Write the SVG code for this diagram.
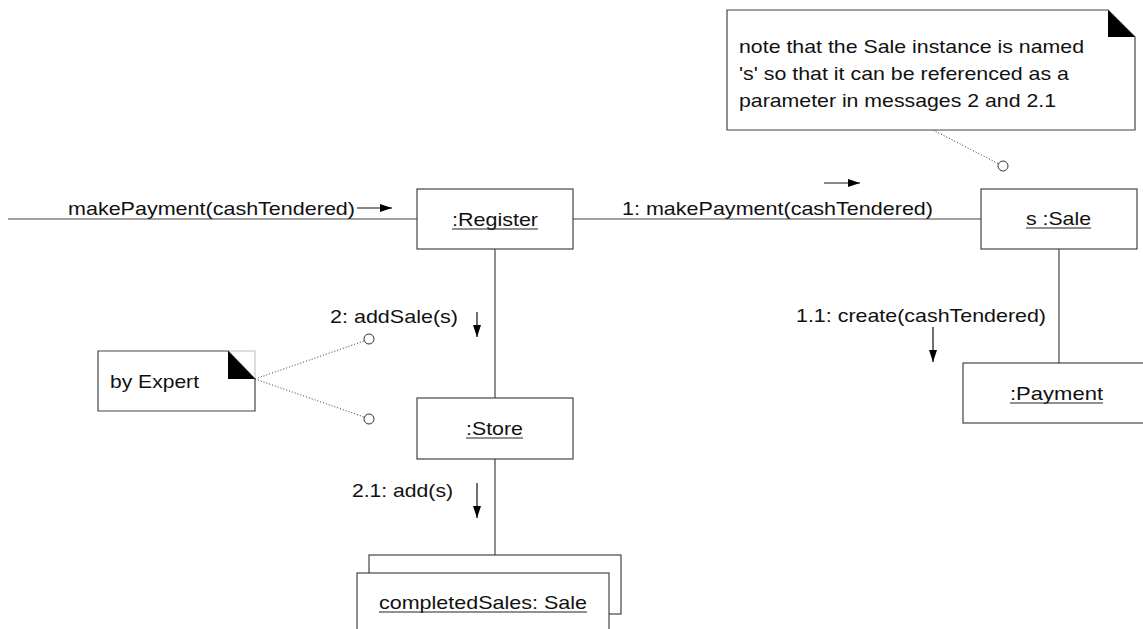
<svg xmlns="http://www.w3.org/2000/svg" width="1143" height="629" viewBox="0 0 1143 629">
  <style>
    text { font-family: "Liberation Sans", Arial, Helvetica, sans-serif; font-size: 19px; fill: #111; }
    .box { fill: #fff; stroke: #444; stroke-width: 1.2; }
    .link { fill: none; stroke: #444; stroke-width: 1.2; }
    .ul { stroke: #222; stroke-width: 1; }
    .dot { fill: none; stroke: #333; stroke-width: 1; stroke-dasharray: 1 2; }
    .pin { fill: #fff; stroke: #333; stroke-width: 1; }
    .msg { stroke: #111; stroke-width: 1.2; fill: none; }
    .fold { fill: #000; }
  </style>
  <defs>
    <marker id="head" viewBox="0 0 12 8" refX="12" refY="4" markerWidth="12" markerHeight="8" markerUnits="userSpaceOnUse" orient="auto">
      <path d="M0,0 L12,4 L0,8 Z" fill="#000"/>
    </marker>
  </defs>

  <!-- links between objects -->
  <g id="connectors">
    <line class="link" x1="8" y1="219" x2="417" y2="219"/>
    <line class="link" x1="573" y1="219" x2="981" y2="219"/>
    <line class="link" x1="495" y1="249" x2="495" y2="398"/>
    <line class="link" x1="495" y1="459" x2="495" y2="555"/>
    <line class="link" x1="1059" y1="249" x2="1059" y2="363"/>
    <!-- note anchors -->
    <line class="dot" x1="933" y1="130" x2="999" y2="164"/>
    <circle class="pin" cx="1003" cy="166" r="5"/>
    <line class="dot" x1="255" y1="379" x2="364" y2="341"/>
    <circle class="pin" cx="369" cy="339" r="5"/>
    <line class="dot" x1="255" y1="379" x2="364" y2="417"/>
    <circle class="pin" cx="369" cy="419" r="5"/>
  </g>

  <!-- message labels and direction arrows -->
  <g id="messages">
    <text x="68" y="215" textLength="287" lengthAdjust="spacingAndGlyphs">makePayment(cashTendered)</text>
    <line class="msg" x1="357" y1="208" x2="392" y2="208" marker-end="url(#head)"/>

    <text x="622" y="215" textLength="311" lengthAdjust="spacingAndGlyphs">1: makePayment(cashTendered)</text>
    <line class="msg" x1="824" y1="183" x2="860" y2="183" marker-end="url(#head)"/>

    <text x="330" y="323" textLength="128" lengthAdjust="spacingAndGlyphs">2: addSale(s)</text>
    <line class="msg" x1="477" y1="312" x2="477" y2="337" marker-end="url(#head)"/>

    <text x="352" y="497" textLength="101" lengthAdjust="spacingAndGlyphs">2.1: add(s)</text>
    <line class="msg" x1="477" y1="483" x2="477" y2="518" marker-end="url(#head)"/>

    <text x="796" y="322" textLength="250" lengthAdjust="spacingAndGlyphs">1.1: create(cashTendered)</text>
    <line class="msg" x1="933" y1="327" x2="933" y2="362" marker-end="url(#head)"/>
  </g>

  <g id="register">
    <rect class="box" x="417" y="189" width="156" height="60"/>
    <text x="452" y="226" textLength="86" lengthAdjust="spacingAndGlyphs">:Register</text>
    <line class="ul" x1="452" y1="229" x2="538" y2="229"/>
  </g>

  <g id="sale">
    <rect class="box" x="981" y="189" width="156" height="60"/>
    <text x="1026" y="225" textLength="65" lengthAdjust="spacingAndGlyphs">s :Sale</text>
    <line class="ul" x1="1026" y1="228" x2="1091" y2="228"/>
  </g>

  <g id="store">
    <rect class="box" x="417" y="398" width="156" height="61"/>
    <text x="466" y="435" textLength="57" lengthAdjust="spacingAndGlyphs">:Store</text>
    <line class="ul" x1="466" y1="438" x2="523" y2="438"/>
  </g>

  <g id="payment">
    <rect class="box" x="963" y="363" width="200" height="60"/>
    <text x="1010" y="400" textLength="93" lengthAdjust="spacingAndGlyphs">:Payment</text>
    <line class="ul" x1="1010" y1="403" x2="1103" y2="403"/>
  </g>

  <!-- multiobject: stacked instances -->
  <g id="completedSales">
    <rect class="box" x="369" y="555" width="252" height="59"/>
    <rect class="box" x="357" y="573" width="252" height="70"/>
    <text x="379" y="609" textLength="208" lengthAdjust="spacingAndGlyphs">completedSales: Sale</text>
    <line class="ul" x1="379" y1="612" x2="587" y2="612"/>
  </g>

  <g id="note-sale-name">
    <path class="box" d="M727,10 L1108,10 L1135,37 L1135,130 L727,130 Z"/>
    <path class="fold" d="M1108,10 L1108,37 L1135,37 Z"/>
    <text x="739" y="53" textLength="345" lengthAdjust="spacingAndGlyphs">note that the Sale instance is named</text>
    <text x="739" y="80" textLength="330" lengthAdjust="spacingAndGlyphs">'s' so that it can be referenced as a</text>
    <text x="739" y="107" textLength="317" lengthAdjust="spacingAndGlyphs">parameter in messages 2 and 2.1</text>
  </g>

  <g id="note-expert">
    <path d="M228,351 L255,351 L255,379" fill="none" stroke="#bbb" stroke-width="1"/>
    <path class="box" d="M98,351 L228,351 L255,379 L255,411 L98,411 Z"/>
    <path class="fold" d="M228,351 L228,379 L255,379 Z"/>
    <text x="110" y="388" textLength="89" lengthAdjust="spacingAndGlyphs">by Expert</text>
  </g>
</svg>
